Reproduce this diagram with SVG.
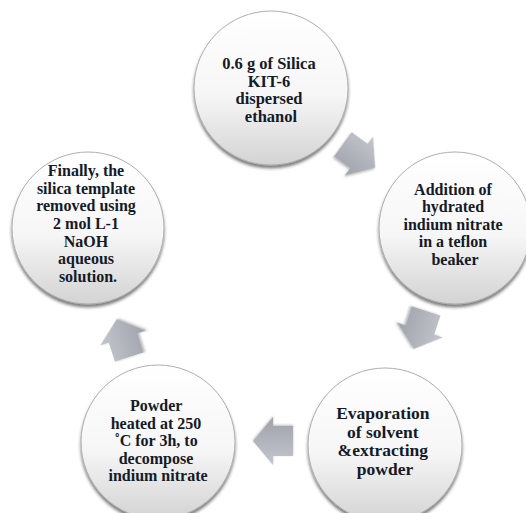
<svg xmlns="http://www.w3.org/2000/svg" xmlns:xlink="http://www.w3.org/1999/xlink" width="526" height="513" viewBox="0 0 526 513">
  <style>
    .disc { fill: url(#discFill); stroke: #aeaeae; stroke-width: 1; filter: url(#discShadow); }
    .label { font-family: "Liberation Serif", "Times New Roman", serif; font-weight: bold; fill: #151a28; text-anchor: middle; }
    .arrow { fill: url(#arrowFill); filter: url(#arrowShadow); }
  </style>
  <defs>
    <linearGradient id="discFill" x1="0" y1="0" x2="0" y2="1">
      <stop offset="0" stop-color="#ffffff"/>
      <stop offset="0.55" stop-color="#f6f6f6"/>
      <stop offset="1" stop-color="#d3d3d3"/>
    </linearGradient>
    <linearGradient id="arrowFill" x1="0" y1="0" x2="0" y2="1">
      <stop offset="0" stop-color="#c3c6cd"/>
      <stop offset="1" stop-color="#9fa2aa"/>
    </linearGradient>
    <filter id="discShadow" x="-20%" y="-20%" width="140%" height="140%">
      <feGaussianBlur in="SourceAlpha" stdDeviation="1.6"/>
      <feOffset dx="0" dy="2.5" result="blur"/>
      <feFlood flood-color="#2a2a2a" flood-opacity="0.6"/>
      <feComposite in2="blur" operator="in"/>
      <feMerge>
        <feMergeNode/>
        <feMergeNode in="SourceGraphic"/>
      </feMerge>
    </filter>
    <filter id="arrowShadow" x="-30%" y="-30%" width="160%" height="160%">
      <feGaussianBlur in="SourceAlpha" stdDeviation="1.2"/>
      <feOffset dx="0" dy="1.5" result="blur"/>
      <feFlood flood-color="#404040" flood-opacity="0.35"/>
      <feComposite in2="blur" operator="in"/>
      <feMerge>
        <feMergeNode/>
        <feMergeNode in="SourceGraphic"/>
      </feMerge>
    </filter>
    <!-- block arrow pointing along +x, centred on the origin -->
    <path id="blockArrow" d="M-20,-15 L0,-15 L0,-24 L20,0 L0,24 L0,15 L-20,15 Z"/>
  </defs>

  <g id="connectors">
    <use xlink:href="#blockArrow" class="arrow" transform="translate(359,156) rotate(36)"/>
    <use xlink:href="#blockArrow" class="arrow" transform="translate(420,330) rotate(108)"/>
    <use xlink:href="#blockArrow" class="arrow" transform="translate(273,441) rotate(180)"/>
    <use xlink:href="#blockArrow" class="arrow" transform="translate(123,338) rotate(252)"/>
  </g>

  <g id="step1">
    <circle class="disc" cx="271" cy="88" r="77"/>
    <text class="label" font-size="16.5">
      <tspan x="271" y="69">0.6 g of Silica</tspan>
      <tspan x="271" y="86.5">KIT-6</tspan>
      <tspan x="271" y="104">dispersed</tspan>
      <tspan x="271" y="121.5">ethanol</tspan>
    </text>
  </g>

  <g id="step2">
    <circle class="disc" cx="455" cy="228" r="76"/>
    <text class="label" font-size="16">
      <tspan x="455" y="194.5">Addition of</tspan>
      <tspan x="455" y="212">hydrated</tspan>
      <tspan x="455" y="229.5">indium nitrate</tspan>
      <tspan x="455" y="247">in a teflon</tspan>
      <tspan x="455" y="264.5">beaker</tspan>
    </text>
  </g>

  <g id="step3">
    <circle class="disc" cx="385" cy="445" r="77"/>
    <text class="label" font-size="17.5">
      <tspan x="385" y="419">Evaporation</tspan>
      <tspan x="385" y="437.5">of solvent</tspan>
      <tspan x="385" y="456">&amp;extracting</tspan>
      <tspan x="385" y="474.5">powder</tspan>
    </text>
  </g>

  <g id="step4">
    <circle class="disc" cx="158" cy="442" r="77"/>
    <text class="label" font-size="16">
      <tspan x="158" y="411">Powder</tspan>
      <tspan x="158" y="428.5">heated at 250</tspan>
      <tspan x="158" y="446">˚C for 3h, to</tspan>
      <tspan x="158" y="463.5">decompose</tspan>
      <tspan x="158" y="481">indium nitrate</tspan>
    </text>
  </g>

  <g id="step5">
    <circle class="disc" cx="88" cy="228" r="76"/>
    <text class="label" font-size="16">
      <tspan x="88" y="176">Finally, the</tspan>
      <tspan x="88" y="193.7">silica template</tspan>
      <tspan x="88" y="211.4">removed using</tspan>
      <tspan x="88" y="229">2 mol L-1</tspan>
      <tspan x="88" y="246.7">NaOH</tspan>
      <tspan x="88" y="264.4">aqueous</tspan>
      <tspan x="88" y="282">solution.</tspan>
    </text>
  </g>
</svg>
